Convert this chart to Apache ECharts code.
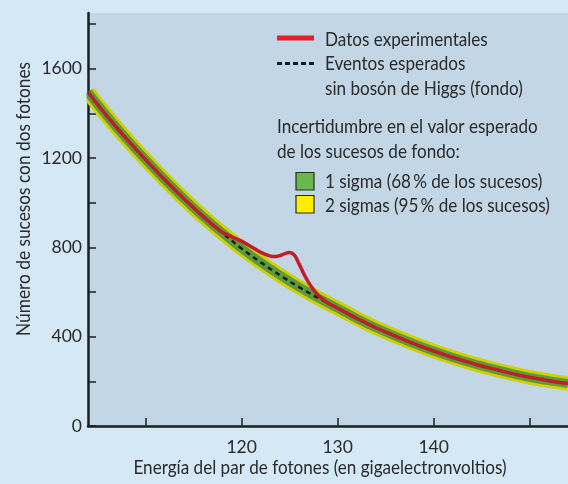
<!DOCTYPE html>
<html>
<head>
<meta charset="utf-8">
<script src="https://cdn.jsdelivr.net/npm/echarts@6/dist/echarts.min.js"></script>
<style>
html,body{margin:0;padding:0;background:#d4e8f6;}
#chart{width:568px;height:484px;}
</style>
</head>
<body>
<div id="chart"></div>
<script>
// Background expectation (no Higgs)
var bgEnergy = [104,106,108,110,112,114,116,118,120,122,124,126,128,130,132,134,136,138,140,142,144,146,148,150,152,154];
var bgCounts = [1495,1387,1287,1193,1103,1018,938,865,795,733,675,622,573,528,482,440,403,368,336,307,281,258,237,218,203,190];
// Experimental data
var dataEnergy = [104,106,108,110,112,114,116,117,118,119,120,121,122,123,123.5,124,124.5,125,125.5,126,126.5,127,127.5,128,128.5,129,130,132,134,136,138,140,142,144,146,148,150,152,154];
var dataCounts = [1495,1387,1287,1193,1103,1018,938,901,868,847,828,803,778,761,759,763,772,777,765,725,680,641,610,585,566,551,528,482,440,403,368,336,307,281,258,237,218,203,190];
// Axis ticks & labels
var xTickValues = [110,120,130,140,150];
var xLabelValues = [120,130,140];
var yTickValues = [0,200,400,600,800,1000,1200,1400,1600,1800];
var yLabelValues = [0,400,800,1200,1600];

var FONT = "Lato,'Liberation Sans',sans-serif";
var TXT = '#2a2a2a';

function pairs(xs, ys){ return xs.map(function(x,i){ return [x, ys[i]]; }); }
var bgData = pairs(bgEnergy, bgCounts);
var expData = pairs(dataEnergy, dataCounts);

var chart = echarts.init(document.getElementById('chart'), null, {renderer:'canvas'});
var legendX = 277, textX = 325;
var LF = '19px ' + FONT;
var SX = 0.9;
chart.setOption({
  animation: false,
  backgroundColor: '#d4e8f6',
  grid: {left: 88, right: 0, top: 13, bottom: 58, show: true, backgroundColor: '#c3d6e5', borderWidth: 0},
  xAxis: {
    type: 'value', min: 104, max: 154,
    axisLine: {onZero: false, lineStyle: {color: '#1e1e1e', width: 2.5}},
    axisTick: {inside: true, length: 8, customValues: xTickValues, lineStyle: {color: '#1e1e1e', width: 1.5}},
    axisLabel: {customValues: xLabelValues, margin: 12, fontSize: 17.5, color: TXT, fontFamily: FONT, formatter: function(v){ return String(v); }},
    splitLine: {show: false}
  },
  yAxis: {
    type: 'value', min: 0, max: 1850,
    axisLine: {show: true, lineStyle: {color: '#1e1e1e', width: 2.5}},
    axisTick: {show: true, inside: true, length: 8, customValues: yTickValues, lineStyle: {color: '#1e1e1e', width: 1.5}},
    axisLabel: {customValues: yLabelValues, margin: 6, fontSize: 17.5, color: TXT, fontFamily: FONT, formatter: function(v){ return String(v); }},
    splitLine: {show: false}
  },
  series: [
    {type: 'line', data: bgData, smooth: 0.4, showSymbol: false, silent: true, lineStyle: {color: '#d0cf00', width: 14.5, cap: 'butt'}, z: 1},
    {type: 'line', data: bgData, smooth: 0.4, showSymbol: false, silent: true, lineStyle: {color: '#5c9b3a', width: 9, cap: 'butt'}, z: 2},
    {type: 'line', data: bgData, smooth: 0.4, showSymbol: false, silent: true, lineStyle: {color: '#1a1a1a', width: 2.5, type: [5,4]}, z: 3},
    {type: 'line', data: expData, smooth: 0.3, showSymbol: false, silent: true, lineStyle: {color: '#c21e2a', width: 3.5}, z: 4}
  ],
  graphic: [
    {type: 'rect', z: 100, shape: {x: 60, y: 78, width: 26.6, height: 36}, style: {fill: '#d4e8f6'}},
    {type: 'text', x: 24, y: 199, rotation: Math.PI/2, scaleX: 0.91, style: {text: 'Número de sucesos con dos fotones', font: '19px ' + FONT, fill: TXT, align: 'center', verticalAlign: 'middle'}},
    {type: 'text', x: 320, y: 468, scaleX: SX, style: {text: 'Energía del par de fotones (en gigaelectronvoltios)', font: '19px ' + FONT, fill: TXT, align: 'center', verticalAlign: 'middle'}},
    {type: 'line', shape: {x1: legendX, y1: 38, x2: 314, y2: 38}, style: {stroke: '#e4202a', lineWidth: 5}},
    {type: 'line', shape: {x1: legendX, y1: 63.5, x2: 314, y2: 63.5}, style: {stroke: '#1a1a1a', lineWidth: 3, lineDash: [5,3]}},
    {type: 'text', x: textX, y: 40, scaleX: SX, style: {text: 'Datos experimentales', font: LF, fill: TXT, verticalAlign: 'middle'}},
    {type: 'text', x: textX, y: 64, scaleX: SX, style: {text: 'Eventos esperados', font: LF, fill: TXT, verticalAlign: 'middle'}},
    {type: 'text', x: textX, y: 89, scaleX: SX, style: {text: 'sin bosón de Higgs (fondo)', font: LF, fill: TXT, verticalAlign: 'middle'}},
    {type: 'text', x: legendX, y: 127, scaleX: SX, style: {text: 'Incertidumbre en el valor esperado', font: LF, fill: TXT, verticalAlign: 'middle'}},
    {type: 'text', x: legendX, y: 152, scaleX: SX, style: {text: 'de los sucesos de fondo:', font: LF, fill: TXT, verticalAlign: 'middle'}},
    {type: 'rect', shape: {x: 296, y: 172.5, width: 18, height: 17.5}, style: {fill: '#6ab84a', stroke: '#2a2a2a', lineWidth: 1.2}},
    {type: 'rect', shape: {x: 296, y: 195.5, width: 18, height: 17.5}, style: {fill: '#ffee00', stroke: '#2a2a2a', lineWidth: 1.2}},
    {type: 'text', x: textX, y: 182, scaleX: SX, style: {text: '1 sigma (68\u2009% de los sucesos)', font: LF, fill: TXT, verticalAlign: 'middle'}},
    {type: 'text', x: textX, y: 205.5, scaleX: SX, style: {text: '2 sigmas (95\u2009% de los sucesos)', font: LF, fill: TXT, verticalAlign: 'middle'}}
  ]
});
</script>
</body>
</html>
